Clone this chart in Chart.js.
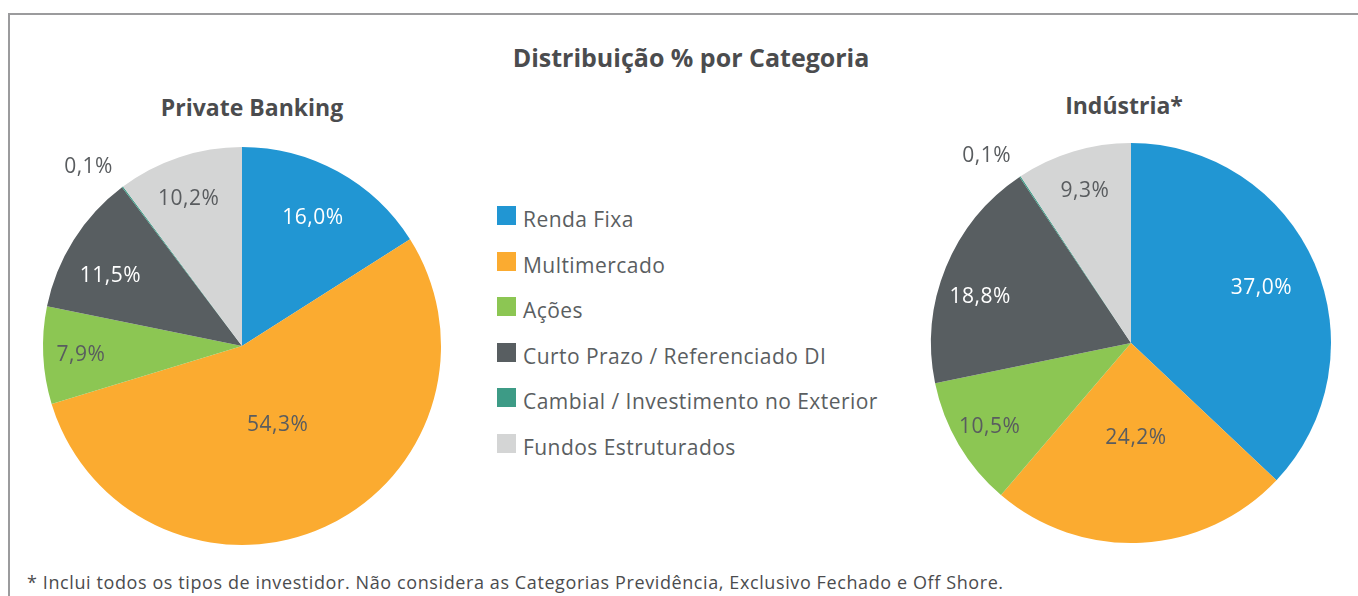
<!DOCTYPE html>
<html lang="pt-BR">
<head>
<meta charset="utf-8">
<title>Distribuição % por Categoria</title>
<script src="https://cdn.jsdelivr.net/npm/chart.js@4.4.1/dist/chart.umd.min.js"></script>
<style>
  html, body {
    margin: 0;
    padding: 0;
    width: 1358px;
    height: 596px;
    overflow: hidden;
    background: #ffffff;
    font-family: "Open Sans", "Noto Sans", sans-serif;
    color: #4b4c4e;
  }
  #frame {
    position: absolute;
    left: 8px;
    top: 13px;
    width: 1352px;
    height: 600px;
    border-top: 2px solid #9b9b9d;
    border-left: 2px solid #9b9b9d;
  }
  .title {
    position: absolute;
    font-weight: 700;
    white-space: nowrap;
    transform: translate(-50%, -50%);
  }
  #mainTitle { left: 691px; top: 57px; font-size: 25px; }
  #pbTitle { left: 252px; top: 107px; font-size: 23px; }
  #indTitle { left: 1124px; top: 105px; font-size: 23px; }
  canvas { position: absolute; }
  #pbChart { left: 12px; top: 126px; }
  #indChart { left: 901px; top: 123px; }
  #legend {
    position: absolute;
    left: 497px;
    top: 206px;
    margin: 0;
    padding: 0;
    list-style: none;
  }
  #legend li {
    position: relative;
    height: 45.5px;
    font-size: 21px;
    line-height: 30px;
    letter-spacing: 0.45px;
    color: #5a5e61;
    white-space: nowrap;
  }
  #legend .box {
    position: absolute;
    left: 0;
    top: 0;
    width: 19px;
    height: 19px;
  }
  #legend .txt {
    position: absolute;
    left: 26px;
    top: -2px;
  }
  #note {
    position: absolute;
    left: 27px;
    top: 570px;
    font-size: 18px;
    letter-spacing: 0.6px;
    color: #4b4c4e;
    white-space: nowrap;
  }
</style>
</head>
<body>
<div id="frame"></div>
<div class="title" id="mainTitle">Distribuição % por Categoria</div>
<div class="title" id="pbTitle">Private Banking</div>
<div class="title" id="indTitle">Indústria*</div>
<canvas id="pbChart" width="460" height="440"></canvas>
<canvas id="indChart" width="460" height="440"></canvas>
<ul id="legend"></ul>
<div id="note">* Inclui todos os tipos de investidor. Não considera as Categorias Previdência, Exclusivo Fechado e Off Shore.</div>

<script>
// Categories (same order in both pies, clockwise from 12 o'clock)
const categories = [
  "Renda Fixa",
  "Multimercado",
  "Ações",
  "Curto Prazo / Referenciado DI",
  "Cambial / Investimento no Exterior",
  "Fundos Estruturados",
];

// Series values (%)
const privateBanking = [16.0, 54.3, 7.9, 11.5, 0.1, 10.2];
const industria = [37.0, 24.2, 10.5, 18.8, 0.1, 9.3];

const COLORS = ["#2196d3", "#fbab30", "#8cc653", "#585e61", "#3d9b86", "#d4d5d5"];
const LABEL_COLORS = ["#ffffff", "#595c5f", "#595c5f", "#ffffff", "#595c5f", "#595c5f"];
const LABEL_FONT_SIZE = 21;

/**
 * Draws the percentage labels: inside labels sit at a fraction of the
 * slice radius, outside labels hang off the arc away from the centre
 */
const sliceLabels = {
  id: "sliceLabels",
  afterDatasetsDraw(chart, args, opts) {
    const ctx = chart.ctx;
    const meta = chart.getDatasetMeta(0);
    const values = chart.data.datasets[0].data;
    ctx.save();
    ctx.font = LABEL_FONT_SIZE + "px 'Open Sans', sans-serif";
    ctx.letterSpacing = "0.5px";
    ctx.textAlign = "center";
    ctx.textBaseline = "middle";
    meta.data.forEach((arc, i) => {
      const p = arc.getProps(["x", "y", "startAngle", "endAngle", "outerRadius"], true);
      const shift = ((opts.shift && opts.shift[i]) || 0) * Math.PI / 180;
      const mid = (p.startAngle + p.endAngle) / 2 + shift;
      const factor = opts.radius[i];
      const r = p.outerRadius * factor;
      const dx = Math.cos(mid);
      const dy = Math.sin(mid);
      let x = p.x + dx * r;
      let y = p.y + dy * r;
      const text = values[i].toFixed(1).replace(".", ",") + "%";
      if (factor > 1) {
        // outside label: push the text box beyond the anchor point
        const w = ctx.measureText(text).width;
        const h = LABEL_FONT_SIZE * 0.75;
        x += Math.sign(dx) * w / 2;
        y += Math.sign(dy) * h / 2;
        ctx.fillStyle = "#595c5f";
      } else {
        ctx.fillStyle = LABEL_COLORS[i];
      }
      ctx.fillText(text, x, y + 1);
    });
    ctx.restore();
  },
};

function createPie(canvasId, values, padding, labelOpts) {
  const ctx = document.getElementById(canvasId).getContext("2d");
  return new Chart(ctx, {
    type: "pie",
    data: {
      labels: categories,
      datasets: [
        {
          data: values,
          backgroundColor: COLORS,
          borderWidth: 0,
        },
      ],
    },
    options: {
      responsive: false,
      animation: false,
      events: [],
      layout: { padding: padding },
      plugins: {
        legend: { display: false },
        tooltip: { enabled: false },
        sliceLabels: labelOpts,
      },
    },
    plugins: [sliceLabels],
  });
}

createPie(
  "pbChart",
  privateBanking,
  { left: 31, right: 31, top: 21, bottom: 21 },
  { radius: [0.74, 0.43, 0.81, 0.75, 1.08, 0.79], shift: [0, 0, 0, -4, 0, -1.5] }
);
createPie(
  "indChart",
  industria,
  { left: 30, right: 30, top: 20, bottom: 20 },
  { radius: [0.71, 0.47, 0.82, 0.79, 1.08, 0.8], shift: [0, 0, 0, -5, 0, 0] }
);

// Legend built from the same categories / colours
const legend = document.getElementById("legend");
categories.forEach((name, i) => {
  const li = document.createElement("li");
  li.innerHTML =
    '<span class="box" style="background:' + COLORS[i] + '"></span>' +
    '<span class="txt">' + name + "</span>";
  legend.appendChild(li);
});
</script>
</body>
</html>
